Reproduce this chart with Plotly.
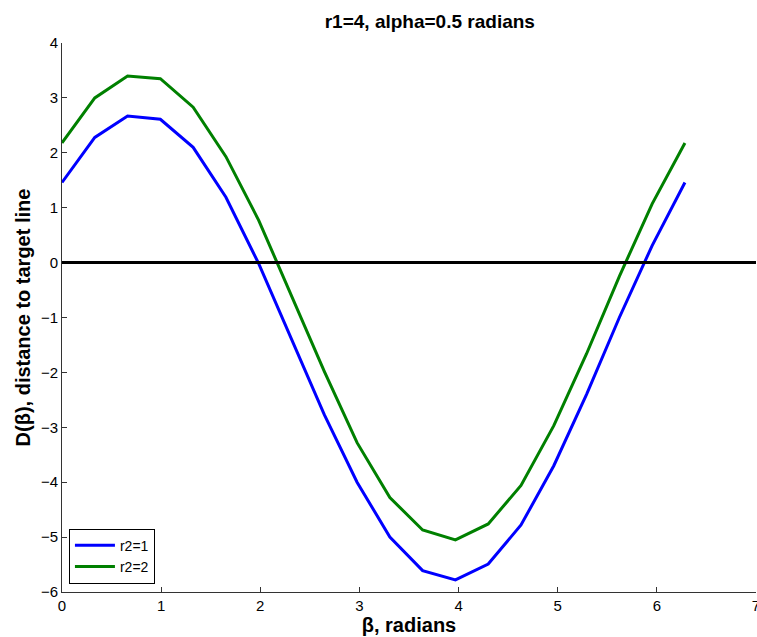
import numpy as np
import plotly.graph_objects as go

beta = [0.0, 0.3307, 0.6614, 0.9921, 1.3228, 1.6535, 1.9842, 2.3149, 2.6456, 2.9762,
        3.3069, 3.6376, 3.9683, 4.2990, 4.6297, 4.9604, 5.2911, 5.6218, 5.9525, 6.2832]
d_r2_1 = [1.46, 2.28, 2.67, 2.61, 2.10, 1.19, -0.02, -1.40, -2.77, -4.00,
          -5.00, -5.61, -5.78, -5.49, -4.78, -3.70, -2.40, -1.00, 0.31, 1.46]
d_r2_2 = [2.18, 3.00, 3.40, 3.35, 2.83, 1.93, 0.77, -0.62, -1.98, -3.28,
          -4.28, -4.87, -5.05, -4.76, -4.06, -2.97, -1.66, -0.25, 1.07, 2.18]

FONT = "Liberation Sans, Arial, Helvetica, sans-serif"

fig = go.Figure()
fig.add_trace(go.Scatter(x=beta, y=d_r2_1, mode="lines", name="r2=1",
                         line=dict(color="#0000FF", width=3)))
fig.add_trace(go.Scatter(x=beta, y=d_r2_2, mode="lines", name="r2=2",
                         line=dict(color="#008000", width=3)))
fig.add_hline(y=0, line=dict(color="black", width=3))

fig.update_layout(
    width=757, height=637,
    margin=dict(l=62, r=1, t=43, b=45, autoexpand=False),
    paper_bgcolor="white", plot_bgcolor="white",
    font=dict(family=FONT, size=15, color="black"),
    title=dict(text="<b>r1=4, alpha=0.5 radians</b>", x=0.53, xref="paper",
               xanchor="center", y=0.966, yanchor="middle",
               font=dict(size=19, family=FONT)),
    showlegend=True,
    legend=dict(x=0.01, y=0.015, xanchor="left", yanchor="bottom",
                bordercolor="black", borderwidth=1, bgcolor="white",
                font=dict(size=14, family=FONT), tracegroupgap=0,
                itemwidth=40),
)
fig.update_xaxes(range=[0, 7], tickvals=[0, 1, 2, 3, 4, 5, 6, 7],
                 showgrid=False, zeroline=False, showline=True,
                 linecolor="#333333", linewidth=1, ticks="inside",
                 ticklen=5, tickcolor="#333333", mirror=False, automargin=False,
                 tickfont=dict(size=15), ticklabeloverflow="allow",
                 title=dict(text="<b>β, radians</b>", font=dict(size=20),
                            standoff=2))
fig.update_yaxes(range=[-6, 4], tickvals=[-6, -5, -4, -3, -2, -1, 0, 1, 2, 3, 4],
                 showgrid=False, zeroline=False, showline=True,
                 linecolor="#333333", linewidth=1, ticks="inside",
                 ticklen=5, tickcolor="#333333", mirror=False, automargin=False,
                 tickfont=dict(size=15), ticklabeloverflow="allow",
                 title=dict(text="<b>D(β), distance to target line</b>",
                            font=dict(size=20), standoff=4))

post = """
document.body.style.margin = '0';
document.body.style.padding = '0';
document.body.style.overflow = 'hidden';
var gd = document.getElementById('{plot_id}');
gd.style.width = '757px';
gd.style.height = '637px';
Plotly.relayout(gd, {width: 757, height: 637});
"""

fig.write_html("out.html", post_script=post,
               config={"responsive": False, "displayModeBar": False})
